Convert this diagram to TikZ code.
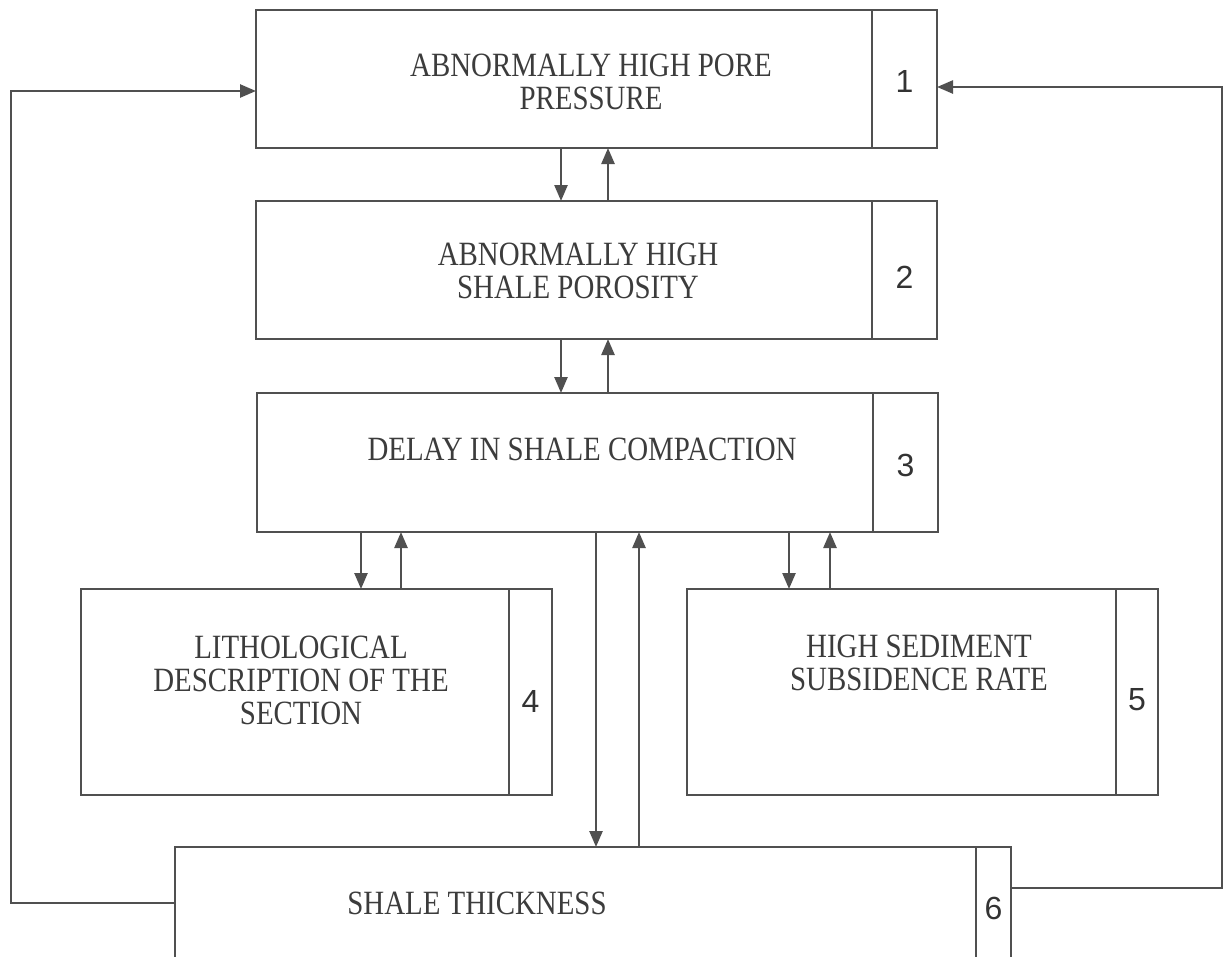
\documentclass[tikz,border=0pt]{standalone}
\usepackage{fontspec}
\newfontfamily\labfont{Liberation Serif}[FakeStretch=0.85]
\newfontfamily\numfont{Liberation Sans}
\usetikzlibrary{arrows.meta}
\definecolor{linec}{HTML}{505050}
\definecolor{textc}{HTML}{3C3C3C}
\begin{document}
\begin{tikzpicture}[x=1pt,y=-1pt,
  box/.style={draw=linec, line width=2.5pt, rectangle, inner sep=0pt, outer sep=0pt, anchor=north west},
  num/.style={font=\numfont\fontsize{32}{32}\selectfont, text=black!80, inner sep=0pt},
  lab/.style={font=\labfont\fontsize{34}{33}\selectfont, text=textc, align=center, inner sep=0pt},
  arr/.style={draw=linec, line width=2.5pt, -{Triangle[length=16pt,width=13pt]}}]
\useasboundingbox (0,0) rectangle (1225,956);
\clip (0,0) rectangle (1225,956);
% boxes and number cells
\node[box, minimum width=616pt, minimum height=138pt] (b1) at (256,10) {};
\node[box, minimum width=65pt, minimum height=138pt] (n1) at (b1.north east) {};
\node[box, minimum width=616pt, minimum height=138pt] (b2) at (256,201) {};
\node[box, minimum width=65pt, minimum height=138pt] (n2) at (b2.north east) {};
\node[box, minimum width=616pt, minimum height=139pt] (b3) at (257,393) {};
\node[box, minimum width=65pt, minimum height=139pt] (n3) at (b3.north east) {};
\node[box, minimum width=428pt, minimum height=206pt] (b4) at (81,589) {};
\node[box, minimum width=43pt, minimum height=206pt] (n4) at (b4.north east) {};
\node[box, minimum width=429pt, minimum height=206pt] (b5) at (687,589) {};
\node[box, minimum width=42pt, minimum height=206pt] (n5) at (b5.north east) {};
\node[box, minimum width=801pt, minimum height=112pt] (b6) at (175,847) {};
\node[box, minimum width=35pt, minimum height=112pt] (n6) at (b6.north east) {};
% numbers
\node[num] (d1) at ([yshift=-2pt]n1.center) {1};
\node[num] (d2) at ([yshift=-7pt]n2.center) {2};
\node[num] (d3) at ([yshift=-3pt]n3.center) {3};
\node[num] (d4) at ([yshift=-9pt]n4.center) {4};
\node[num] (d5) at ([yshift=-8pt]n5.center) {5};
\node[num] (d6) at ([yshift=-5pt]n6.center) {6};
% labels
\node[lab] (t1) at (591,82) {ABNORMALLY HIGH PORE\\PRESSURE};
\node[lab] (t2) at (578,271) {ABNORMALLY HIGH\\SHALE POROSITY};
\node[lab] (t3) at (582,449) {DELAY IN SHALE COMPACTION};
\node[lab] (t4) at (301,680) {LITHOLOGICAL\\DESCRIPTION OF THE\\SECTION};
\node[lab] (t5) at (919,663) {HIGH SEDIMENT\\SUBSIDENCE RATE};
\node[lab] (t6) at (477,903) {SHALE THICKNESS};
% vertical arrows
\draw[arr] (b1.south -| 561,0) -- (b2.north -| 561,0);
\draw[arr] (b2.north -| 608,0) -- (b1.south -| 608,0);
\draw[arr] (b2.south -| 561,0) -- (b3.north -| 561,0);
\draw[arr] (b3.north -| 608,0) -- (b2.south -| 608,0);
\draw[arr] (b3.south -| 361,0) -- (b4.north -| 361,0);
\draw[arr] (b4.north -| 401,0) -- (b3.south -| 401,0);
\draw[arr] (b3.south -| 789,0) -- (b5.north -| 789,0);
\draw[arr] (b5.north -| 830,0) -- (b3.south -| 830,0);
\draw[arr] (b3.south -| 596,0) -- (b6.north -| 596,0);
\draw[arr] (b6.north -| 639,0) -- (b3.south -| 639,0);
% feedback loops
\coordinate (lc) at (11,91);
\coordinate (rc) at (1222,87);
\draw[arr] (b6.west) -| (lc) -- (b1.west |- lc);
\draw[arr] ([yshift=15pt]n6.east) -| (rc) -- (n1.east |- rc);
\end{tikzpicture}
\end{document}
